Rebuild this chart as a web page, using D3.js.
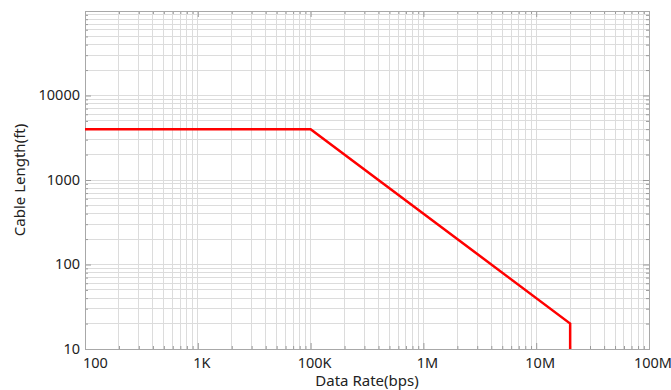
<!DOCTYPE html>
<html>
<head>
<meta charset="utf-8">
<script src="https://cdn.jsdelivr.net/npm/d3@7"></script>
<style>
  html, body { margin: 0; padding: 0; background: #fff; }
  svg text { font-family: "Noto Sans", sans-serif; fill: #222; }
  .tick-label { font-size: 14.5px; }
  .axis-title { font-size: 15px; }
</style>
</head>
<body>
<svg id="chart" width="671" height="390"></svg>
<script>
// cable length vs data rate, log-log
const rateTicks = [1e3, 1e4, 1e5, 1e6, 1e7, 1e8];
const rateLabels = ['100', '1K', '100K', '1M', '10M', '100M'];
const lengthTicks = [10, 100, 1000, 10000];
const lengthLabels = ['10', '100', '1000', '10000'];

const rate = [1e3, 1e5, 2e7, 2e7];
const cableLength = [4000, 4000, 20, 10];

const margin = { top: 11, right: 22, bottom: 41, left: 85 };
const svg = d3.select('#chart');
const width = +svg.attr('width');
const height = +svg.attr('height');
const innerWidth = width - margin.left - margin.right;
const innerHeight = height - margin.top - margin.bottom;

const x = d3.scaleLog().domain([1e3, 1e8]).range([0, innerWidth]);
const y = d3.scaleLog().domain([10, 1e5]).range([innerHeight, 0]);

const g = svg.append('g').attr('transform', `translate(${margin.left},${margin.top})`);

// every 1..9 step in each decade
function logSteps(lo, hi) {
  const out = [];
  for (let p = lo; p < hi; p *= 10) {
    for (let k = 1; k <= 9; k++) out.push(k * p);
  }
  out.push(hi);
  return out;
}
const xGrid = logSteps(1e3, 1e8);
const yGrid = logSteps(10, 1e5);

// grid
g.append('g')
  .selectAll('line')
  .data(xGrid)
  .join('line')
  .attr('x1', d => x(d)).attr('x2', d => x(d))
  .attr('y1', 0).attr('y2', innerHeight)
  .attr('stroke', '#dcdcdc')
  .attr('stroke-width', 1)
  .attr('shape-rendering', 'crispEdges');

g.append('g')
  .selectAll('line')
  .data(yGrid)
  .join('line')
  .attr('y1', d => y(d)).attr('y2', d => y(d))
  .attr('x1', 0).attr('x2', innerWidth)
  .attr('stroke', '#dcdcdc')
  .attr('stroke-width', 1)
  .attr('shape-rendering', 'crispEdges');

// inward tick marks on all four sides (labels drawn separately)
const isMajor = d => Math.abs(Math.log10(d) - Math.round(Math.log10(d))) < 1e-9;
const tickColor = '#9a9a9a';

function tickMarks(sel, sign, attr) {
  sel.select('.domain').remove();
  sel.selectAll('.tick text').remove();
  sel.selectAll('.tick line')
    .attr('stroke', tickColor)
    .filter(isMajor).attr(attr, 6 * sign);
}

g.append('g')
  .call(d3.axisLeft(y).tickValues(yGrid).tickSizeInner(-3).tickSizeOuter(0))
  .call(a => tickMarks(a, 1, 'x2'));

g.append('g').attr('transform', `translate(${innerWidth},0)`)
  .call(d3.axisRight(y).tickValues(yGrid).tickSizeInner(-3).tickSizeOuter(0))
  .call(a => tickMarks(a, -1, 'x2'));

g.append('g').attr('transform', `translate(0,${innerHeight})`)
  .call(d3.axisBottom(x).tickValues(xGrid).tickSizeInner(-3).tickSizeOuter(0))
  .call(a => tickMarks(a, -1, 'y2'));

g.append('g')
  .call(d3.axisTop(x).tickValues(xGrid).tickSizeInner(-3).tickSizeOuter(0))
  .call(a => tickMarks(a, 1, 'y2'));

// frame
g.append('rect')
  .attr('width', innerWidth)
  .attr('height', innerHeight)
  .attr('fill', 'none')
  .attr('stroke', '#a8a8a8')
  .attr('shape-rendering', 'crispEdges');

// tick labels
g.append('g')
  .selectAll('text')
  .data(rateTicks)
  .join('text')
  .attr('class', 'tick-label')
  .attr('x', (d, i) => i === 0 ? x(d) - 2 : x(d) + 4)
  .attr('y', innerHeight + 19)
  .attr('text-anchor', (d, i) => i === 0 ? 'start' : 'middle')
  .text((d, i) => rateLabels[i]);

g.append('g')
  .selectAll('text')
  .data(lengthTicks)
  .join('text')
  .attr('class', 'tick-label')
  .attr('x', -5)
  .attr('y', d => y(d))
  .attr('dy', '0.33em')
  .attr('text-anchor', 'end')
  .text((d, i) => lengthLabels[i]);

// the curve
const line = d3.line()
  .x((d, i) => x(rate[i]))
  .y(d => y(d));

g.append('path')
  .datum(cableLength)
  .attr('fill', 'none')
  .attr('stroke', '#ff0000')
  .attr('stroke-width', 2.5)
  .attr('d', line);

// axis titles
svg.append('text')
  .attr('class', 'axis-title')
  .attr('x', margin.left + innerWidth / 2)
  .attr('y', height - 4)
  .attr('text-anchor', 'middle')
  .text('Data Rate(bps)');

svg.append('text')
  .attr('class', 'axis-title')
  .attr('transform', `translate(25,${margin.top + innerHeight / 2}) rotate(-90)`)
  .attr('text-anchor', 'middle')
  .text('Cable Length(ft)');
</script>
</body>
</html>
